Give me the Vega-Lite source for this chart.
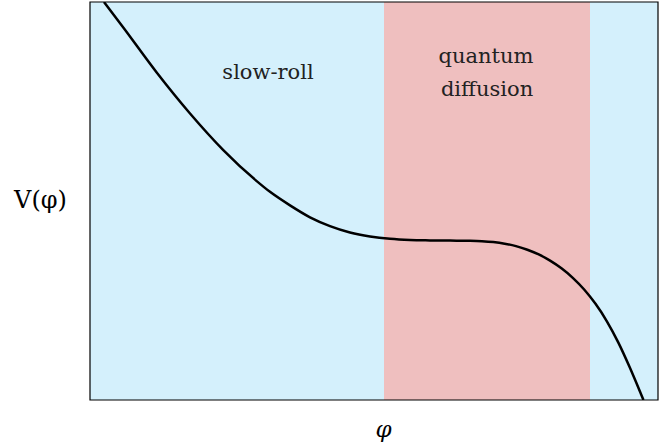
{
  "$schema": "https://vega.github.io/schema/vega-lite/v6.json",
  "width": 568,
  "height": 398,
  "autosize": {"type": "none"},
  "padding": {"left": 90, "top": 2, "right": 13, "bottom": 45},
  "background": "white",
  "config": {"view": {"stroke": null}, "font": "DejaVu Serif"},
  "datasets": {
    "bands": [
      {"x0": 0, "x1": 1, "region": "slow-roll"},
      {"x0": 0.5176, "x1": 0.8803, "region": "quantum diffusion"}
    ],
    "frame": [
      {"x0": 0, "x1": 1, "y0": 0, "y1": 1}
    ],
    "curve": [
      {"phi": 0.0246, "V": 1.0},
      {"phi": 0.0586, "V": 0.936},
      {"phi": 0.1174, "V": 0.823},
      {"phi": 0.1761, "V": 0.720},
      {"phi": 0.2347, "V": 0.628},
      {"phi": 0.2935, "V": 0.550},
      {"phi": 0.3169, "V": 0.523},
      {"phi": 0.3521, "V": 0.489},
      {"phi": 0.3873, "V": 0.459},
      {"phi": 0.4225, "V": 0.437},
      {"phi": 0.4577, "V": 0.421},
      {"phi": 0.4930, "V": 0.411},
      {"phi": 0.5282, "V": 0.405},
      {"phi": 0.5634, "V": 0.402},
      {"phi": 0.5986, "V": 0.401},
      {"phi": 0.6338, "V": 0.4005},
      {"phi": 0.669, "V": 0.400},
      {"phi": 0.69, "V": 0.399},
      {"phi": 0.71, "V": 0.3968},
      {"phi": 0.73, "V": 0.3928},
      {"phi": 0.75, "V": 0.3866},
      {"phi": 0.77, "V": 0.3776},
      {"phi": 0.79, "V": 0.3656},
      {"phi": 0.81, "V": 0.3502},
      {"phi": 0.83, "V": 0.3309},
      {"phi": 0.85, "V": 0.3070},
      {"phi": 0.87, "V": 0.2776},
      {"phi": 0.89, "V": 0.2416},
      {"phi": 0.91, "V": 0.1978},
      {"phi": 0.93, "V": 0.1448},
      {"phi": 0.95, "V": 0.0828},
      {"phi": 0.97, "V": 0.0152},
      {"phi": 0.9744, "V": 0.0}
    ],
    "labels": [
      {"phi": 0.3134, "V": 0.8216, "text": "slow-roll"},
      {"phi": 0.6972, "V": 0.8618, "text": "quantum"},
      {"phi": 0.6990, "V": 0.7790, "text": "diffusion"}
    ]
  },
  "layer": [
    {
      "data": {"name": "bands"},
      "mark": {"type": "rect", "stroke": null},
      "encoding": {
        "x": {"field": "x0", "type": "quantitative", "scale": {"domain": [0, 1], "nice": false, "zero": false},
          "axis": {"title": "φ", "titleFont": "DejaVu Serif", "titleFontStyle": "italic", "titleFontWeight": "normal", "titleFontSize": 23, "titleColor": "black", "titleBaseline": "middle", "titleAlign": "center", "titleY": 29, "titleX": 293, "labels": false, "ticks": false, "domain": false, "grid": false}},
        "x2": {"field": "x1"},
        "y": {"datum": 0, "type": "quantitative", "scale": {"domain": [0, 1], "nice": false, "zero": false},
          "axis": {"title": "V(φ)", "titleFont": "DejaVu Serif", "titleFontWeight": "normal", "titleFontSize": 24, "titleColor": "black", "titleAngle": 0, "titleAlign": "center", "titleBaseline": "middle", "titleX": -50, "titleY": 198, "labels": false, "ticks": false, "domain": false, "grid": false}},
        "y2": {"datum": 1},
        "color": {"field": "region", "type": "nominal", "scale": {"domain": ["slow-roll", "quantum diffusion"], "range": ["#d4f0fc", "#efbfbf"]}, "legend": null}
      }
    },
    {
      "data": {"name": "frame"},
      "mark": {"type": "rect", "fill": null, "stroke": "black", "strokeWidth": 1.2},
      "encoding": {
        "x": {"field": "x0", "type": "quantitative"},
        "x2": {"field": "x1"},
        "y": {"field": "y0", "type": "quantitative"},
        "y2": {"field": "y1"}
      }
    },
    {
      "data": {"name": "curve"},
      "mark": {"type": "line", "color": "black", "strokeWidth": 2.5, "interpolate": "monotone", "clip": true},
      "encoding": {
        "x": {"field": "phi", "type": "quantitative"},
        "y": {"field": "V", "type": "quantitative"}
      }
    },
    {
      "data": {"name": "labels"},
      "mark": {"type": "text", "font": "DejaVu Serif", "fontSize": 21, "color": "#222", "align": "center", "baseline": "middle"},
      "encoding": {
        "x": {"field": "phi", "type": "quantitative"},
        "y": {"field": "V", "type": "quantitative"},
        "text": {"field": "text"}
      }
    }
  ]
}
